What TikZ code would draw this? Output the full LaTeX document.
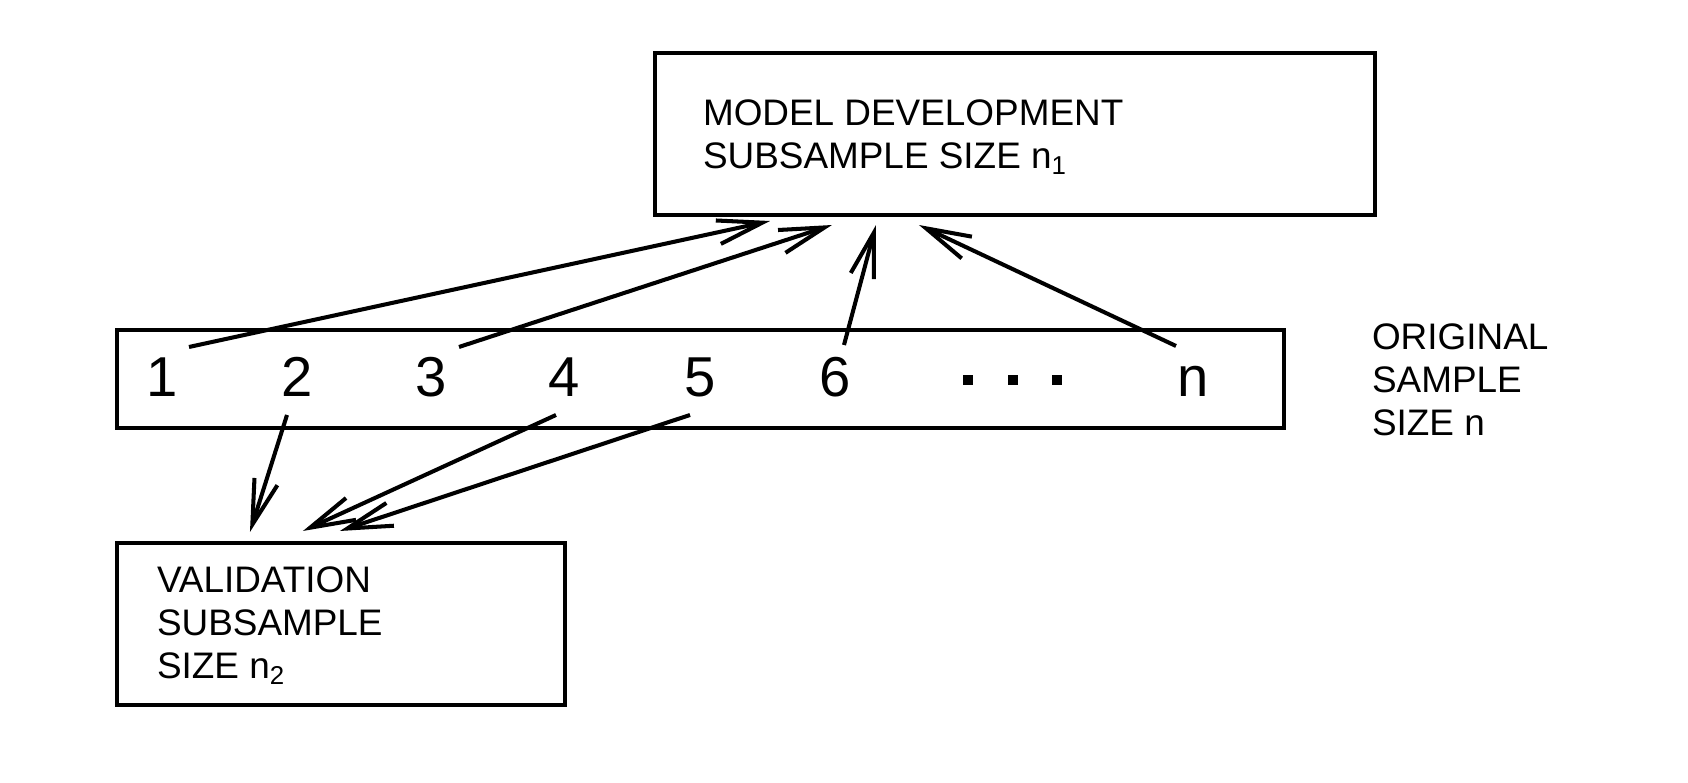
\documentclass[tikz,border=0pt]{standalone}
\usepackage{fontspec}
\setmainfont{Liberation Sans}
\usetikzlibrary{arrows.meta}

\begin{document}
\begin{tikzpicture}[line width=1.15pt,
  box/.style={draw,rectangle,inner sep=0pt},
  lbl/.style={anchor=base west,inner sep=0pt,font=\fontsize{10.5}{12.2}\selectfont},
  num/.style={anchor=base,inner sep=0pt,font=\fontsize{16}{19}\selectfont},
  pick/.style={-{Straight Barb[length=0.45cm,width=0.24cm]}}]
  \useasboundingbox (0,0) rectangle (16.88,7.83);

  % the three boxes
  \node [box,minimum width=7.20cm,minimum height=1.62cm] (model) at (10.15,6.49) {};
  \node [box,minimum width=11.67cm,minimum height=0.98cm] (orig) at (7.005,4.04) {};
  \node [box,minimum width=4.48cm,minimum height=1.62cm] (valid) at (3.41,1.59) {};

  \node [lbl] (modeltxt) at (7.01,6.57) {\begin{tabular}[t]{@{}l@{}}MODEL DEVELOPMENT\\SUBSAMPLE SIZE n\textsubscript{1}\end{tabular}};
  \node [lbl] (validtxt) at (1.55,1.90) {\begin{tabular}[t]{@{}l@{}}VALIDATION\\SUBSAMPLE\\SIZE n\textsubscript{2}\end{tabular}};
  \node [lbl] (origtxt) at (13.70,4.33) {\begin{tabular}[t]{@{}l@{}}ORIGINAL\\SAMPLE\\SIZE n\end{tabular}};

  % sample members
  \node [num] (n1) at (1.62,3.86) {1};
  \node [num] (n2) at (2.97,3.86) {2};
  \node [num] (n3) at (4.31,3.86) {3};
  \node [num] (n4) at (5.64,3.86) {4};
  \node [num] (n5) at (7.00,3.86) {5};
  \node [num] (n6) at (8.35,3.86) {6};
  \node [inner sep=0pt] (dots) at (10.125,4.03) {\rule{0.1cm}{0.1cm}\hspace{0.345cm}\rule{0.1cm}{0.1cm}\hspace{0.345cm}\rule{0.1cm}{0.1cm}};
  \node [num] (nn) at (11.93,3.86) {n};

  % to the model development subsample
  \draw [pick] ([xshift=0.27cm,yshift=0.50cm]n1.base) -- ([xshift=1.17cm,yshift=-0.04cm]model.south west);
  \draw [pick] ([xshift=0.28cm,yshift=0.50cm]n3.base) -- ([xshift=1.79cm,yshift=-0.08cm]model.south west);
  \draw [pick] ([xshift=0.09cm,yshift=0.52cm]n6.base) -- ([xshift=2.23cm,yshift=-0.08cm]model.south west);
  \draw [pick] ([xshift=-0.17cm,yshift=0.51cm]nn.base) -- ([xshift=2.66cm,yshift=-0.08cm]model.south west);

  % to the validation subsample
  \draw [pick] ([xshift=-0.10cm,yshift=-0.18cm]n2.base) -- ([xshift=1.35cm,yshift=0.09cm]valid.north west);
  \draw [pick] ([xshift=-0.08cm,yshift=-0.18cm]n4.base) -- ([xshift=1.88cm,yshift=0.10cm]valid.north west);
  \draw [pick] ([xshift=-0.10cm,yshift=-0.18cm]n5.base) -- ([xshift=2.25cm,yshift=0.10cm]valid.north west);
\end{tikzpicture}
\end{document}
